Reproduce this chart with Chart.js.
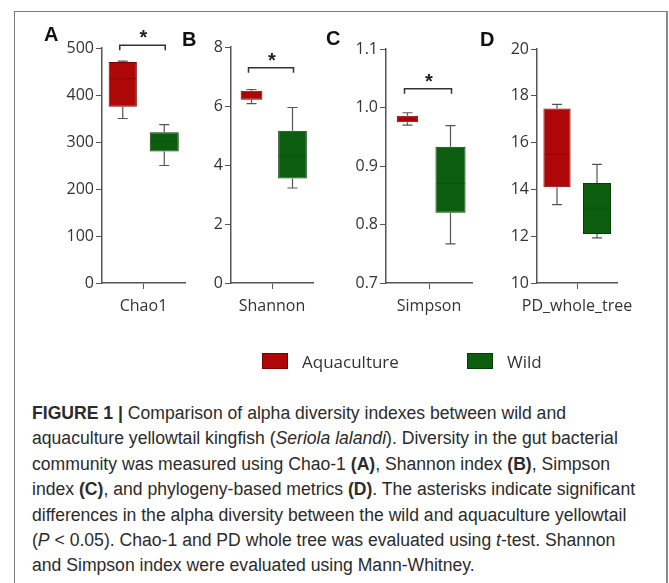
<!DOCTYPE html>
<html>
<head>
<meta charset="utf-8">
<script src="https://cdn.jsdelivr.net/npm/chart.js@4.4.1/dist/chart.umd.min.js"></script>
<style>
  body { margin: 0; background: #fff; }
  #fig { position: relative; width: 669px; height: 583px; overflow: hidden; background: #fff; }
  #frame { position: absolute; left: 14px; top: 11px; width: 651px; height: 620px;
           border: 1px solid #7a7a7a; border-right: 2px solid #8a8a8a; }
  canvas { position: absolute; top: 0; }
  .letter { position: absolute; font-family: "Liberation Sans", Arial, sans-serif; font-weight: bold;
            font-size: 20px; color: #111; }
  .legend { position: absolute; font-family: "Open Sans", sans-serif; font-size: 17px; color: #333; line-height: 23px; }
  .swatch { position: absolute; width: 24px; height: 14px; }
  #caption { position: absolute; left: 32px; top: 401px; white-space: nowrap;
             font-family: "Liberation Sans", Arial, sans-serif; font-size: 17.6px; line-height: 25.4px; color: #2b2b2b; }
</style>
</head>
<body>
<div id="fig">
  <div id="frame"></div>
  <canvas id="chartA"></canvas>
  <canvas id="chartB"></canvas>
  <canvas id="chartC"></canvas>
  <canvas id="chartD"></canvas>
  <div class="letter" style="left:44px;top:23px;">A</div>
  <div class="letter" style="left:182px;top:28px;">B</div>
  <div class="letter" style="left:326px;top:27px;">C</div>
  <div class="letter" style="left:480px;top:28px;">D</div>
  <div class="swatch" style="left:262px;top:353px;background:#ad0707;border:1px solid #7a0000;"></div>
  <div class="legend" style="left:302px;top:350px;">Aquaculture</div>
  <div class="swatch" style="left:467px;top:353px;background:#0c5e0e;border:1px solid #063d07;"></div>
  <div class="legend" style="left:507px;top:350px;">Wild</div>
  <div id="caption"><b>FIGURE 1 |</b> Comparison of alpha diversity indexes between wild and<br>aquaculture yellowtail kingfish (<i>Seriola lalandi</i>). Diversity in the gut bacterial<br>community was measured using Chao-1 <b>(A)</b>, Shannon index <b>(B)</b>, Simpson<br>index <b>(C)</b>, and phylogeny-based metrics <b>(D)</b>. The asterisks indicate significant<br>differences in the alpha diversity between the wild and aquaculture yellowtail<br>(<i>P</i> &lt; 0.05). Chao-1 and PD whole tree was evaluated using <i>t</i>-test. Shannon<br>and Simpson index were evaluated using Mann-Whitney.</div>
</div>
<script>
// categories / groups
var metrics = ["Chao1", "Shannon", "Simpson", "PD_whole_tree"];
var groups = ["Aquaculture", "Wild"];

// axis ranges and ticks
var yMin = [0, 0, 0.7, 10];
var yMax = [500, 8, 1.1, 20];
var yStep = [100, 2, 0.1, 2];

// box plot values (min, q1, median, q3, max)
var aquaMin = [350, 6.08, 0.970, 13.35];
var aquaQ1 = [375, 6.21, 0.975, 14.09];
var aquaMed = [435, 6.40, 0.979, 15.50];
var aquaQ3 = [470, 6.52, 0.986, 17.46];
var aquaMax = [472, 6.56, 0.991, 17.63];

var wildMin = [250, 3.22, 0.767, 11.93];
var wildQ1 = [280, 3.54, 0.820, 12.09];
var wildMed = [300, 4.30, 0.870, 13.20];
var wildQ3 = [321, 5.16, 0.933, 14.27];
var wildMax = [337, 5.95, 0.969, 15.07];

// significance bracket height (null = no bracket)
var bracketY = [506, 7.3, 1.032, null];

var fillColors = ["#ad0707", "#0c5e0e"];
var edgeColors = ["#7a0000", "#063d07"];
var medColors = ["#980505", "#0a530c"];
var axisColor = "#555";
var tickFont = "'Open Sans', sans-serif";

// pixel placement of each panel (extra right room so long labels are not clipped)
var panelLeft = [40, 169, 324, 475];
var panelWidth = [145, 144, 148, 142];
var extraRight = 24;
var aquaBoxPct = [0.68, 0.53, 0.5, 0.68];
var canvasH = 330;
var padTop = [48, 47, 49, 49];
var xAxisH = 47;
var yAxisW = 62;

var boxExtras = {
  id: "boxExtras",
  afterDatasetsDraw: function (chart) {
    var ctx = chart.ctx;
    var y = chart.scales.y;
    var p = chart.options.panelIndex;
    var stats = [
      [aquaMin[p], aquaMed[p], aquaMax[p], aquaQ1[p], aquaQ3[p]],
      [wildMin[p], wildMed[p], wildMax[p], wildQ1[p], wildQ3[p]]
    ];
    var centers = [];
    ctx.save();
    for (var i = 0; i < 2; i++) {
      var bar = chart.getDatasetMeta(i).data[0];
      var x = bar.x;
      centers.push(x);
      var s = stats[i];
      ctx.strokeStyle = axisColor;
      ctx.lineWidth = 1.2;
      ctx.beginPath();
      // upper whisker
      ctx.moveTo(x, y.getPixelForValue(s[4]));
      ctx.lineTo(x, y.getPixelForValue(s[2]));
      ctx.moveTo(x - 5, y.getPixelForValue(s[2]));
      ctx.lineTo(x + 5, y.getPixelForValue(s[2]));
      // lower whisker
      ctx.moveTo(x, y.getPixelForValue(s[3]));
      ctx.lineTo(x, y.getPixelForValue(s[0]));
      ctx.moveTo(x - 5, y.getPixelForValue(s[0]));
      ctx.lineTo(x + 5, y.getPixelForValue(s[0]));
      ctx.stroke();
      // median
      ctx.strokeStyle = medColors[i];
      ctx.lineWidth = 1;
      ctx.beginPath();
      ctx.moveTo(x - bar.width / 2 + 1, y.getPixelForValue(s[1]));
      ctx.lineTo(x + bar.width / 2 - 1, y.getPixelForValue(s[1]));
      ctx.stroke();
    }
    if (bracketY[p] !== null) {
      var by = y.getPixelForValue(bracketY[p]);
      ctx.strokeStyle = "#333";
      ctx.lineWidth = 1.5;
      ctx.beginPath();
      ctx.moveTo(centers[0] - 3, by + 5);
      ctx.lineTo(centers[0] - 3, by);
      ctx.lineTo(centers[1] + 1, by);
      ctx.lineTo(centers[1] + 1, by + 5);
      ctx.stroke();
      ctx.fillStyle = "#222";
      ctx.font = "bold 20px 'Liberation Sans', Arial, sans-serif";
      ctx.textAlign = "center";
      ctx.textBaseline = "alphabetic";
      ctx.fillText("*", (centers[0] + centers[1]) / 2, by - 1);
    }
    ctx.restore();
  }
};

function makePanel(id, p) {
  var canvas = document.getElementById(id);
  var w = panelWidth[p] + extraRight;
  canvas.style.left = panelLeft[p] + "px";
  canvas.width = w;
  canvas.height = canvasH;
  canvas.style.width = w + "px";
  canvas.style.height = canvasH + "px";

  new Chart(canvas, {
    type: "bar",
    data: {
      labels: [metrics[p]],
      datasets: [
        {
          label: groups[0],
          data: [[aquaQ1[p], aquaQ3[p]]],
          backgroundColor: fillColors[0],
          borderColor: edgeColors[0],
          borderWidth: 1,
          borderSkipped: false,
          barPercentage: aquaBoxPct[p]
        },
        {
          label: groups[1],
          data: [[wildQ1[p], wildQ3[p]]],
          backgroundColor: fillColors[1],
          borderColor: edgeColors[1],
          borderWidth: 1,
          borderSkipped: false,
          barPercentage: 0.7
        }
      ]
    },
    options: {
      panelIndex: p,
      responsive: false,
      animation: false,
      categoryPercentage: 1.0,
      layout: { padding: { top: padTop[p], right: extraRight, bottom: 0, left: 0 } },
      plugins: { legend: { display: false }, tooltip: { enabled: false } },
      scales: {
        x: {
          afterFit: function (scale) {
            scale.height = xAxisH;
            scale.paddingLeft = 0;
            scale.paddingRight = 0;
          },
          grid: { display: true, drawOnChartArea: false, tickLength: 6, tickColor: axisColor, offset: false },
          border: { color: axisColor, width: 1.5 },
          ticks: { color: "#333", font: { family: tickFont, size: 16 }, padding: 8 }
        },
        y: {
          min: yMin[p],
          max: yMax[p],
          afterFit: function (scale) { scale.width = yAxisW; },
          grid: { display: true, drawOnChartArea: false, tickLength: 6, tickColor: axisColor },
          border: { color: axisColor, width: 1.5 },
          ticks: {
            stepSize: yStep[p],
            color: "#333",
            padding: 2,
            font: { family: tickFont, size: 16 },
            callback: function (v) { return p === 2 ? Number(v).toFixed(1) : v; }
          }
        }
      }
    },
    plugins: [boxExtras]
  });
}

makePanel("chartA", 0);
makePanel("chartB", 1);
makePanel("chartC", 2);
makePanel("chartD", 3);
</script>
</body>
</html>
